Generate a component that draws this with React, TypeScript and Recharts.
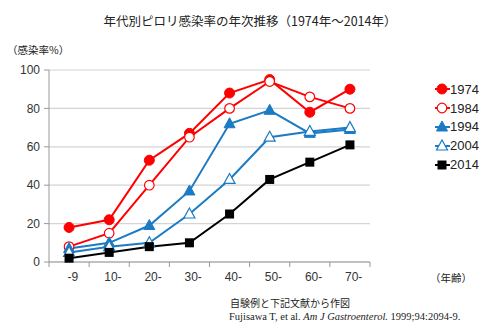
import { LineChart, Line, XAxis, YAxis, CartesianGrid, Legend } from 'recharts'

const categories = ['-9', '10-', '20-', '30-', '40-', '50-', '60-', '70-']
const years = ['1974', '1984', '1994', '2004', '2014']
const s1974 = [18, 22, 53, 67, 88, 95, 78, 90]
const s1984 = [8, 15, 40, 65, 80, 94, 86, 80]
const s1994 = [7, 10, 19, 37, 72, 79, 67, 69]
const s2004 = [5, 8, 10, 25, 43, 65, 68, 70]
const s2014 = [2, 5, 8, 10, 25, 43, 52, 61]
const yTicks = [0, 20, 40, 60, 80, 100]

const RED = '#FF0000'
const BLUE = '#1B7BC4'
const FONT = '"Liberation Sans", Arial, sans-serif'
const JP = '"Noto Sans CJK JP", sans-serif'

type Kind = 'circle' | 'openCircle' | 'triangle' | 'openTriangle' | 'square'

const SERIES: { key: string; values: number[]; color: string; kind: Kind }[] = [
  { key: years[0], values: s1974, color: RED, kind: 'circle' },
  { key: years[1], values: s1984, color: RED, kind: 'openCircle' },
  { key: years[2], values: s1994, color: BLUE, kind: 'triangle' },
  { key: years[3], values: s2004, color: BLUE, kind: 'openTriangle' },
  { key: years[4], values: s2014, color: '#000', kind: 'square' },
]

const data = categories.map((label, i) => {
  const row: Record<string, number | string> = { pos: i + 0.5, label }
  SERIES.forEach((s) => (row[s.key] = s.values[i]))
  return row
})

function Marker({ kind, cx, cy, color }: { kind: Kind; cx: number; cy: number; color: string }) {
  switch (kind) {
    case 'circle':
      return <circle cx={cx} cy={cy} r={5} fill={color} stroke={color} strokeWidth={1} />
    case 'openCircle':
      return <circle cx={cx} cy={cy} r={4.8} fill="#fff" stroke={color} strokeWidth={1.2} />
    case 'triangle':
      return <path d={`M${cx},${cy - 6}L${cx + 5.5},${cy + 4}L${cx - 5.5},${cy + 4}Z`} fill={color} stroke={color} />
    case 'openTriangle':
      return <path d={`M${cx},${cy - 6}L${cx + 5.5},${cy + 4}L${cx - 5.5},${cy + 4}Z`} fill="#fff" stroke={color} strokeWidth={1.2} />
    default:
      return <rect x={cx - 4.5} y={cy - 4.5} width={9} height={9} fill={color} />
  }
}

const HALF_STEP = (430 - 49) / 16

function XTick(props: any) {
  const { x, y, payload } = props
  const i = payload.value as number
  if (i >= categories.length) return <g />
  return (
    <text x={x + HALF_STEP} y={y + 12} textAnchor="middle" fontSize={12} fill="#333" fontFamily={FONT}>
      {categories[i]}
    </text>
  )
}

function LegendBox() {
  return (
    <div style={{ fontFamily: FONT, fontSize: 13, color: '#222' }}>
      {SERIES.map((s) => (
        <div key={s.key} style={{ display: 'flex', alignItems: 'center', height: 18.8 }}>
          <svg width={15} height={14} style={{ marginRight: 0 }}>
            <line x1={0} y1={7} x2={15} y2={7} stroke={s.color} strokeWidth={2} />
            <Marker kind={s.kind} cx={7} cy={7} color={s.color} />
          </svg>
          <span>{s.key}</span>
        </div>
      ))}
    </div>
  )
}

export default function App() {
  return (
    <div style={{ position: 'absolute', left: 0, top: 0, width: 500, height: 330, background: '#fff' }}>
      <LineChart width={500} height={330} data={data} margin={{ top: 70, right: 70, bottom: 38, left: 0 }}>
        <CartesianGrid vertical={false} stroke="#D4D4D4" strokeWidth={1.2} />
        <XAxis
          type="number"
          dataKey="pos"
          domain={[0, 8]}
          ticks={[0, 1, 2, 3, 4, 5, 6, 7, 8]}
          interval={0}
          height={30}
          stroke="#999"
          tickSize={5}
          tick={<XTick />}
        />
        <YAxis
          domain={[0, 100]}
          ticks={yTicks}
          width={49}
          stroke="#999"
          tickSize={5}
          tickMargin={4}
          tick={{ fontSize: 12, fill: '#333', fontFamily: FONT }}
        />
        <Legend
          layout="vertical"
          align="right"
          verticalAlign="top"
          content={() => <LegendBox />}
          wrapperStyle={{ left: 435, top: 80, width: 60 }}
        />
        {SERIES.map((s) => (
          <Line
            key={s.key}
            dataKey={s.key}
            stroke={s.color}
            strokeWidth={2}
            isAnimationActive={false}
            dot={(p: any) => <Marker key={`${s.key}-${p.index}`} kind={s.kind} cx={p.cx} cy={p.cy} color={s.color} />}
            activeDot={false}
          />
        ))}
      </LineChart>
      <div style={{ position: 'absolute', left: 0, width: 500, top: 11, textAlign: 'center', fontFamily: JP, fontSize: 12.5, color: '#222' }}>
        年代別ピロリ感染率の年次推移（1974年～2014年）
      </div>
      <div style={{ position: 'absolute', left: 7, top: 42, fontFamily: JP, fontSize: 10.5, color: '#222' }}>（感染率%）</div>
      <div style={{ position: 'absolute', left: 430, top: 270, fontFamily: JP, fontSize: 10.5, color: '#222' }}>（年齢）</div>
      <div style={{ position: 'absolute', left: 230, top: 295, fontFamily: JP, fontSize: 10, color: '#222' }}>自験例と下記文献から作図</div>
      <div style={{ position: 'absolute', left: 229, top: 311, fontFamily: '"Liberation Serif", serif', fontSize: 10.5, color: '#222', whiteSpace: 'nowrap' }}>
        Fujisawa T, et al. <i>Am J Gastroenterol.</i> 1999;94:2094-9.
      </div>
    </div>
  )
}
